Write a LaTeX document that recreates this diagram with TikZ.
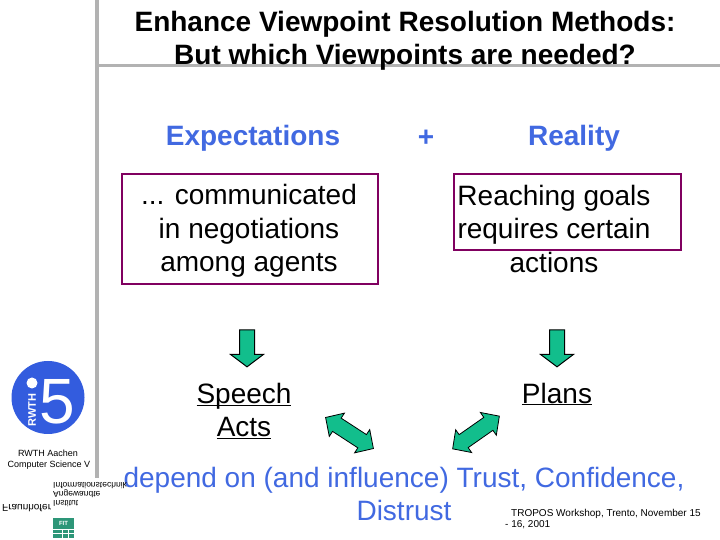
\documentclass[tikz,border=0pt]{standalone}
\usepackage{fontspec}
\setmainfont{Liberation Sans}
\usepackage{xcolor}
\usetikzlibrary{shapes.arrows}
\definecolor{SlideBlue}{RGB}{65,105,225}
\definecolor{LogoBlue}{RGB}{51,92,222}
\definecolor{RuleGray}{RGB}{178,178,178}
\definecolor{BoxPurple}{RGB}{128,0,96}
\definecolor{ArrowGreen}{RGB}{18,190,140}
\definecolor{FitGreen}{RGB}{45,150,120}
\tikzset{
	title/.style={font=\fontsize{28}{33}\selectfont\bfseries, align=center},
	head/.style={font=\fontsize{28}{33}\selectfont\bfseries, text=SlideBlue},
	body/.style={font=\fontsize{28}{33.5}\selectfont, align=center},
	outcome/.style={font=\fontsize{28}{33}\selectfont, align=center},
	goalbox/.style={draw=BoxPurple, line width=1.5pt},
	downarrow/.style={single arrow, draw=black, line width=1pt, fill=ArrowGreen, rotate=-90,
		text height=7pt, text depth=7pt, minimum width=32pt, minimum height=37pt,
		single arrow head extend=9pt, single arrow tip angle=106, inner sep=0pt},
	linkarrow/.style={double arrow, draw=black, line width=.8pt, fill=ArrowGreen,
		text height=7.5pt, text depth=7.5pt, minimum width=27pt, minimum height=57pt,
		double arrow head extend=6pt, double arrow tip angle=92, inner sep=0pt},
	mirrored/.style={yscale=-1, font=\fontsize{8.5}{10}\selectfont, anchor=west, inner sep=0pt},
	small/.style={font=\fontsize{9}{11}\selectfont, inner sep=0pt},
	credit/.style={font=\fontsize{10}{12}\selectfont, inner sep=0pt, anchor=west}
}
\begin{document}
\begin{tikzpicture}[x=1pt,y=1pt]

	\useasboundingbox (0,0) rectangle (720,540);

	% rules
	\fill[RuleGray] (94.5,62) rectangle (98.5,540);
	\fill[RuleGray] (96,472.5) rectangle (720,475.5);

	\node[title] (heading) at (405,499.5) {Enhance Viewpoint Resolution Methods:\\But which Viewpoints are needed?};

	\node[head] (expect) at (253,402) {Expectations};
	\node[head] (plus) at (426,402) {+};
	\node[head] (reality) at (574,402) {Reality};

	% boxes
	\draw[goalbox] (122,256) rectangle (378,366);
	\draw[goalbox] (454,290) rectangle (681,366);
	\node[body] (negot) at (249,309) {... communicated\\in negotiations\\among agents};
	\node[body] (goals) at (554,311.5) {Reaching goals\\requires certain\\actions};

	\node[downarrow] (downleft) at (247,194.5) {};
	\node[downarrow] (downright) at (557,194.5) {};

	\node[outcome] (speech) at (244,119) {\underline{\smash{Speech}}\\\underline{\smash{Acts}}};
	\node[outcome] (plans) at (557,146) {\underline{Plans}};

	\node[linkarrow, rotate=-33] (linkleft) at (349.5,107) {};
	\node[linkarrow, rotate=35] (linkright) at (476,107.5) {};

	\node[body, text=SlideBlue] (depend) at (404,46) {depend on (and influence) Trust, Confidence,\\Distrust};

	\node[credit] (tropos) at (511,26) {TROPOS Workshop, Trento, November 15};
	\node[credit] (dates) at (505,15) {- 16, 2001};

	% logo
	\fill[LogoBlue] (48,142.5) circle(36.5);
	\fill[white] (32,157) circle(5.5);
	\node[text=white, font=\fontsize{64}{64}\selectfont, inner sep=0pt] (five) at (57,138) {5};
	\node[text=white, font=\fontsize{11}{11}\selectfont\bfseries, rotate=90, inner sep=0pt] (rwth) at (32,130) {RWTH};
	\node[small] (aachen) at (48,87) {RWTH Aachen};
	\node[small] (csfive) at (49,75) {Computer Science V};

	\node[mirrored] (infotech) at (53,54) {Informationstechnik};
	\node[mirrored] (angew) at (53,46.5) {Angewandte};
	\node[mirrored] (institut) at (53,36) {Institut};
	\node[mirrored, font=\fontsize{10}{10}\selectfont] (fraunhofer) at (2,32) {Fraunhofer};

	\fill[FitGreen] (53,2) rectangle (74,22);
	\node[text=white, font=\fontsize{6}{6}\selectfont\bfseries, inner sep=0pt] (fit) at (63.5,16.5) {FIT};
	\draw[white, line width=.5pt] (53,11) -- (74,11) (53,6.5) -- (74,6.5) (62,2) -- (62,11) (68,2) -- (68,11);

\end{tikzpicture}
\end{document}
